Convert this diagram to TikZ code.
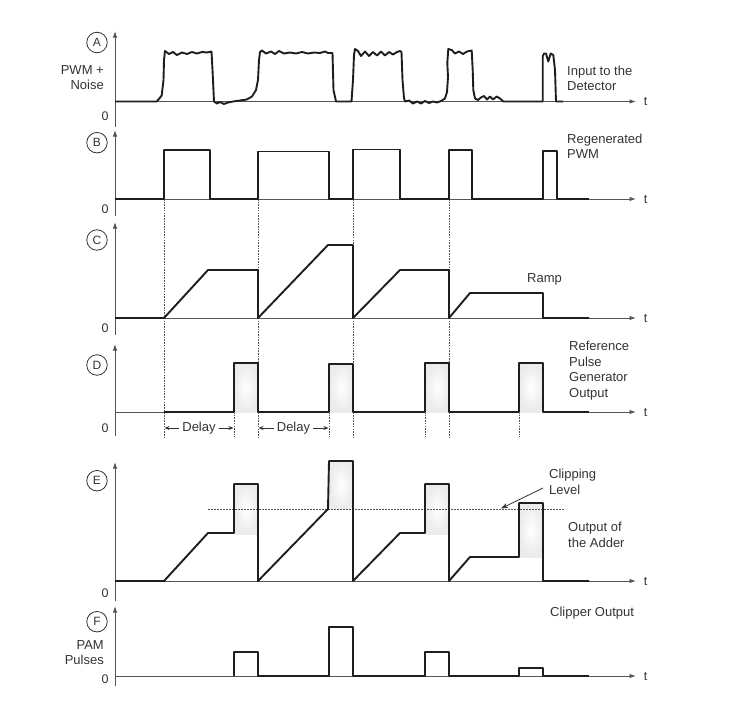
\documentclass[tikz,border=0pt]{standalone}
\usepackage{fontspec}
\setmainfont{Liberation Sans}
\usetikzlibrary{arrows.meta}
\definecolor{txt}{HTML}{333333}
\definecolor{ax}{HTML}{555555}
\definecolor{wv}{HTML}{1E1E1E}
\begin{document}
\begin{tikzpicture}[x=1pt,y=-1pt,
  wave/.style={line width=1.9pt, line join=round, draw=wv},
  haxis/.style={line width=0.9pt, draw=ax, -{Latex[length=6.5pt,width=4.5pt]}},
  vaxis/.style={line width=0.9pt, draw=ax, -{Latex[length=6.5pt,width=4.5pt]}},
  guide/.style={line width=0.8pt, draw=ax, dash pattern=on 1.6pt off 1.1pt},
  clipline/.style={line width=0.9pt, draw=ax, dash pattern=on 1.8pt off 1.2pt},
  lbl/.style={font=\fontsize{13}{15.5}\selectfont, text=txt, inner sep=0pt, align=left},
  lblr/.style={font=\fontsize{13}{15}\selectfont, text=txt, inner sep=0pt, align=right},
  zero/.style={font=\fontsize{12.5}{14}\selectfont, text=txt, inner sep=0pt},
  circ/.style={circle, draw=txt, line width=0.8pt, minimum size=20.5pt, inner sep=0pt, font=\fontsize{12}{12}\selectfont, text=txt},
  pfill/.style={inner color=white, outer color=black!8},
  darr/.style={line width=0.8pt, draw=txt, -{Stealth[length=5pt,width=4pt]}},
  carr/.style={line width=0.8pt, draw=txt, -{Stealth[length=7pt,width=5pt]}}
]
\useasboundingbox (0,0) rectangle (740,707);

% ---------- axes ----------
\foreach \yb/\yt/\yl in {127/31/101.5, 216/130/199, 335/222/318, 436/344/412, 601/462/581, 686/606/676}{
  \draw[vaxis] (115,\yb) -- (115,\yt);
  \draw[haxis] (115,\yl) -- (636,\yl);
}

% ---------- guides ----------
\foreach \x in {164,258,353,449}{
  \draw[guide] (\x,199) -- (\x,437);
}
\foreach \x in {234,329,425,519}{
  \draw[guide] (\x,412) -- (\x,437);
}

% ---------- shaded pulse bodies ----------
\shade[pfill] (234,363) rectangle (258,412);
\shade[pfill] (329,363) rectangle (353,412);
\shade[pfill] (425,363) rectangle (449,412);
\shade[pfill] (519,363) rectangle (543,412);
\shade[pfill] (234,484) rectangle (258,534);
\shade[pfill] (329,461) rectangle (353,509);
\shade[pfill] (425,484) rectangle (449,534);
\shade[pfill] (519,503) rectangle (543,557);

% ---------- clipping level ----------
\draw[clipline] (208,509) -- (565,509);

% ---------- waveform A ----------
\draw[wave] (115,101.5) -- (156.7,101.5) -- (159.3,98.5) -- (161.7,95.5) -- (163.5,80) -- (164,60) -- (165,51)
 -- (169,54) -- (173,52) -- (177,55) -- (182,52.5) -- (187,54) -- (192,52) -- (197,53.5) -- (202,52)
 -- (207,52.5) -- (211.5,51.5) -- (212.5,70)
 -- (214,101.5) -- (217,103.5) -- (220,102) -- (224,104) -- (228,102.5) -- (233,101.5) -- (240,100.5)
 -- (246.7,99.5) -- (252,96.5) -- (256,90) -- (258,80) -- (259,60) -- (260,52) -- (262,50.5) -- (266,53.5)
 -- (271,51.5) -- (275,54) -- (279,51) -- (284,53.5) -- (290,52.5) -- (296,53.5) -- (302,52) -- (308,53.5)
 -- (314,52.5) -- (320,53) -- (325,51.5) -- (328,53) -- (332.5,53) -- (333.5,90) -- (336,101.5) -- (351.5,101.5) -- (353,80)
 -- (354,55) -- (355,49) -- (358,51) -- (361,56) -- (365,51.5) -- (369,56) -- (373,52) -- (377,55.5)
 -- (381,51.5) -- (385,55.5) -- (389,52) -- (393,54.5) -- (397,52) -- (400,51) -- (401.5,52) -- (402.5,80)
 -- (404,98) -- (405,101.5) -- (409,100.5) -- (413,103.5)
 -- (417,101.5) -- (421,103.5) -- (425,101) -- (429,103) -- (433,101.5) -- (437,102.5) -- (441,101)
 -- (445,98.5) -- (447,92) -- (448,77) -- (447.3,63) -- (448.3,49) -- (451.7,50) -- (455,53.5) -- (459,51.5)
 -- (463,54) -- (467,51.5) -- (471.7,50.5) -- (472.7,70) -- (473.3,90) -- (475,98.5)
 -- (478,100) -- (481,97.5) -- (484,96) -- (487,99.5) -- (490,96.5) -- (493,99.5) -- (496.7,96.5)
 -- (500,98.5) -- (503.3,101.5) -- (542.7,101.5) -- (542.7,56.5) -- (544,53.5) -- (546,53.5) -- (548.3,61.5)
 -- (550.7,53.5) -- (553.3,55) -- (555,70) -- (556,101.5) -- (563,101.5);

% ---------- waveform B ----------
\draw[wave] (115,199) -- (164,199) -- (164,150) -- (210,150) -- (210,199) -- (258,199) -- (258,151.5)
 -- (329,151.5) -- (329,199) -- (353,199) -- (353,149.5) -- (400,149.5) -- (400,199) -- (449,199)
 -- (449,150) -- (472,150) -- (472,199) -- (543,199) -- (543,151) -- (557,151) -- (557,199) -- (589,199);

% ---------- waveform C ----------
\draw[wave] (115,318) -- (164,318) -- (208,270) -- (258,270) -- (258,318) -- (328,245) -- (353,245)
 -- (353,318) -- (400,270) -- (449,270) -- (449,318) -- (470,293) -- (543,293) -- (543,318) -- (589,318);

% ---------- waveform D ----------
\draw[wave] (164,412) -- (234,412) -- (234,363) -- (258,363) -- (258,412) -- (329,412) -- (329,364)
 -- (353,364) -- (353,412) -- (425,412) -- (425,363) -- (449,363) -- (449,412) -- (519,412) -- (519,363)
 -- (543,363) -- (543,412) -- (589,412);

% ---------- waveform E ----------
\draw[wave] (115,581) -- (164,581) -- (208,533) -- (234,533) -- (234,484) -- (258,484) -- (258,581)
 -- (328,509) -- (329,461) -- (353,461) -- (353,581) -- (400,533) -- (425,533) -- (425,484) -- (449,484)
 -- (449,581) -- (470,557) -- (519,557) -- (519,503) -- (543,503) -- (543,581) -- (589,581);

% ---------- waveform F ----------
\draw[wave] (234,676) -- (234,652) -- (258,652) -- (258,676) -- (329,676) -- (329,627) -- (353,627)
 -- (353,676) -- (425,676) -- (425,652) -- (449,652) -- (449,676) -- (519,676) -- (519,668) -- (543,668)
 -- (543,676) -- (589,676);

% ---------- circled letters ----------
\node[circ] (cA) at (97,42.5) {A};
\node[circ] (cB) at (97,142.7) {B};
\node[circ] (cC) at (97,240) {C};
\node[circ] (cD) at (97,365) {D};
\node[circ] (cE) at (97,480.7) {E};
\node[circ] (cF) at (97,621.7) {F};

% ---------- zeros ----------
\node[zero] (z1) at (105,116) {0};
\node[zero] (z2) at (105,209) {0};
\node[zero] (z3) at (105,328) {0};
\node[zero] (z4) at (105,428) {0};
\node[zero] (z5) at (105,593) {0};
\node[zero] (z6) at (105,679.5) {0};

% ---------- t labels ----------
\node[zero] (t1) at (645.5,102) {t};
\node[zero] (t2) at (645.5,199.5) {t};
\node[zero] (t3) at (645.5,318.5) {t};
\node[zero] (t4) at (645.5,412.5) {t};
\node[zero] (t5) at (645.5,581.5) {t};
\node[zero] (t6) at (645.5,676.5) {t};

% ---------- side labels ----------
\node[lblr, anchor=east] (noise) at (104,77.5) {PWM +\\Noise};
\node[lblr, anchor=east] (pam) at (104,653) {PAM\\Pulses};
\node[lbl, anchor=west] (inp) at (567,78.5) {Input to the\\Detector};
\node[lbl, anchor=west] (regen) at (567,146.5) {Regenerated\\PWM};
\node[lbl, anchor=west] (ramp) at (527,279) {Ramp};
\node[lbl, anchor=west] (refp) at (569,370.5) {Reference\\Pulse\\Generator\\Output};
\node[lbl, anchor=west] (clip) at (549,482) {Clipping\\Level};
\node[lbl, anchor=west] (adder) at (568,535) {Output of\\the Adder};
\node[lbl, anchor=west] (clipout) at (550,613) {Clipper Output};

% ---------- delay labels ----------
\node[lbl] (d1) at (199,428) {Delay};
\node[lbl] (d2) at (293.5,428) {Delay};
\coordinate (g1) at (164.5,428);
\coordinate (g2) at (233.5,428);
\coordinate (g3) at (258.5,428);
\coordinate (g4) at (328.5,428);
\draw[darr] ([xshift=-3pt]d1.west) -- (g1);
\draw[darr] ([xshift=3pt]d1.east) -- (g2);
\draw[darr] ([xshift=-3pt]d2.west) -- (g3);
\draw[darr] ([xshift=3pt]d2.east) -- (g4);

% ---------- clipping level arrow ----------
\coordinate (clipend) at (501,508.5);
\draw[carr] ([xshift=-6pt,yshift=-6pt]clip.west) -- (clipend);
\end{tikzpicture}
\end{document}
